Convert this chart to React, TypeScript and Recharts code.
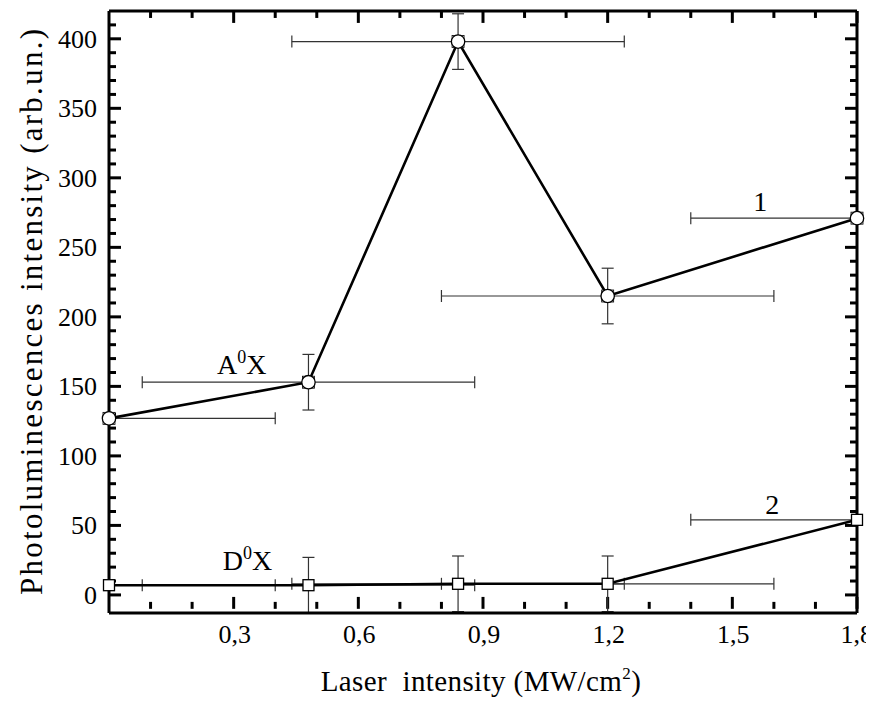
import React from "react";
import {
  ComposedChart,
  Scatter,
  XAxis,
  YAxis,
  ErrorBar,
  ReferenceDot,
  ReferenceLine,
  Label,
} from "recharts";

// values
const laserIntensity = [0, 0.48, 0.84, 1.2, 1.8];
const a0xIntensity = [127, 153, 398, 215, 271];
const d0xIntensity = [7, 7, 8, 8, 54];
const xErrorLow = [0, 0.4, 0.4, 0.4, 0.4];
const xErrorHigh = [0.4, 0.4, 0.4, 0.4, 0];
const yError = [0, 20, 20, 20, 0];

const xMajorTicks = [0.3, 0.6, 0.9, 1.2, 1.5, 1.8];
const xTickLabels = ["0,3", "0,6", "0,9", "1,2", "1,5", "1,8"];
const xMinorTicks = [
  0.1, 0.2, 0.4, 0.5, 0.7, 0.8, 1.0, 1.1, 1.3, 1.4, 1.6, 1.7,
];
const yMajorTicks = [0, 50, 100, 150, 200, 250, 300, 350, 400];
const yTickLabels = ["0", "50", "100", "150", "200", "250", "300", "350", "400"];
const yMinorTicks = [
  10, 20, 30, 40, 60, 70, 80, 90, 110, 120, 130, 140, 160, 170, 180, 190, 210,
  220, 230, 240, 260, 270, 280, 290, 310, 320, 330, 340, 360, 370, 380, 390,
  410,
];

const annotations = [
  { x: 0.26, y: 159, head: "A", sup: "0", tail: "X", anchor: "start" },
  { x: 0.274, y: 18, head: "D", sup: "0", tail: "X", anchor: "start" },
  { x: 1.567, y: 276, head: "1", sup: "", tail: "", anchor: "middle" },
  { x: 1.596, y: 58, head: "2", sup: "", tail: "", anchor: "middle" },
];

const build = (values: number[]) =>
  laserIntensity.map((x, i) => ({
    x,
    y: values[i],
    xErr: [xErrorLow[i], xErrorHigh[i]],
    yErr: yError[i],
  }));

const a0xData = build(a0xIntensity);
const d0xData = build(d0xIntensity);

const FONT = "'Liberation Serif', 'DejaVu Serif', serif";
const AXIS_W = 3;
const X_DOMAIN: [number, number] = [0, 1.8];
const Y_DOMAIN: [number, number] = [-10, 420];

// chart geometry
const W = 866;
const H = 690;
const LEFT = 101;
const RIGHT = 9;
const MARGIN_RIGHT = 8;
const TOP = 3;
const BOTTOM = 85;
const PLOT_W = W - LEFT - RIGHT - MARGIN_RIGHT;
const PLOT_H = H - TOP - BOTTOM;

// tick lengths in px, turned into data units for the inward tick marks
const MAJOR = 12;
const MINOR = 7;
const xPerPx = (X_DOMAIN[1] - X_DOMAIN[0]) / PLOT_W;
const yPerPx = (Y_DOMAIN[1] - Y_DOMAIN[0]) / PLOT_H;

const axisLine = { stroke: "#000", strokeWidth: AXIS_W };

const CircleMarker = (props: any) => {
  const { cx, cy } = props;
  return (
    <g>
      <rect x={cx - 6} y={cy - 6} width={12} height={12} fill="#fff" stroke="#000" strokeWidth={0.8} />
      <circle cx={cx} cy={cy} r={6.7} fill="#fff" stroke="#000" strokeWidth={1.3} />
    </g>
  );
};

const SquareMarker = (props: any) => {
  const { cx, cy } = props;
  return <rect x={cx - 5.5} y={cy - 5.5} width={11} height={11} fill="#fff" stroke="#000" strokeWidth={1.3} />;
};

const XTitle = (props: any) => {
  const { viewBox } = props;
  const cx = viewBox.x + viewBox.width / 2;
  return (
    <text
      x={cx - 2}
      y={viewBox.y + 78}
      textAnchor="middle"
      fontFamily={FONT}
      fontSize={29}
      letterSpacing={0.4}
      fill="#000"
      style={{ whiteSpace: "pre" }}
    >
      {"Laser  intensity (MW/cm"}
      <tspan dy={-12} fontSize={17}>2</tspan>
      <tspan dy={12}>)</tspan>
    </text>
  );
};

const YTitle = (props: any) => {
  const { viewBox } = props;
  const cy = viewBox.y + viewBox.height / 2;
  const x = 34;
  return (
    <text
      x={x}
      y={cy}
      transform={`rotate(-90 ${x} ${cy})`}
      textAnchor="middle"
      fontFamily={FONT}
      fontSize={31}
      textLength={566}
      lengthAdjust="spacing"
      fill="#000"
    >
      Photoluminescences intensity (arb.un.)
    </text>
  );
};

const tickStyle = { stroke: "#000", strokeWidth: AXIS_W };

const xTickMarks = (ticks: number[], len: number) =>
  ticks.flatMap((v) => [
    <ReferenceLine
      key={`xb-${v}`}
      segment={[
        { x: v, y: Y_DOMAIN[0] },
        { x: v, y: Y_DOMAIN[0] + len * yPerPx },
      ]}
      ifOverflow="visible"
      {...tickStyle}
    />,
    <ReferenceLine
      key={`xt-${v}`}
      segment={[
        { x: v, y: Y_DOMAIN[1] },
        { x: v, y: Y_DOMAIN[1] - len * yPerPx },
      ]}
      ifOverflow="visible"
      {...tickStyle}
    />,
  ]);

const yTickMarks = (ticks: number[], len: number) =>
  ticks.flatMap((v) => [
    <ReferenceLine
      key={`yl-${v}`}
      segment={[
        { x: X_DOMAIN[0], y: v },
        { x: X_DOMAIN[0] + len * xPerPx, y: v },
      ]}
      ifOverflow="visible"
      {...tickStyle}
    />,
    <ReferenceLine
      key={`yr-${v}`}
      segment={[
        { x: X_DOMAIN[1], y: v },
        { x: X_DOMAIN[1] - len * xPerPx, y: v },
      ]}
      ifOverflow="visible"
      {...tickStyle}
    />,
  ]);

// tick labels drawn at the axis positions
const xTickTexts = () =>
  xMajorTicks.map((v, i) => {
    const last = i === xMajorTicks.length - 1;
    return (
      <ReferenceDot
        key={`xl-${v}`}
        x={v}
        y={Y_DOMAIN[0]}
        r={0}
        ifOverflow="visible"
        shape={(p: any) => (
          <text
            x={last ? p.cx + 16 : p.cx + 1}
            y={p.cy + 34}
            textAnchor={last ? "end" : "middle"}
            fontFamily={FONT}
            fontSize={26}
            fill="#000"
          >
            {xTickLabels[i]}
          </text>
        )}
      />
    );
  });

const yTickTexts = () =>
  yMajorTicks.map((v, i) => (
    <ReferenceDot
      key={`yt-${v}`}
      x={X_DOMAIN[0]}
      y={v}
      r={0}
      ifOverflow="visible"
      shape={(p: any) => (
        <text x={p.cx - 12} y={p.cy + 9} textAnchor="end" fontFamily={FONT} fontSize={26} fill="#000">
          {yTickLabels[i]}
        </text>
      )}
    />
  ));

export default function App() {
  return (
    <div style={{ width: W, height: H, background: "#fff" }}>
      <ComposedChart width={W} height={H} margin={{ top: 0, right: MARGIN_RIGHT, bottom: 0, left: 0 }}>
        <XAxis
          dataKey="x"
          type="number"
          domain={X_DOMAIN}
          ticks={xMajorTicks}
          interval={0}
          tickSize={0}
          tickLine={false}
          tick={false}
          height={BOTTOM}
          axisLine={axisLine}
        >
          <Label content={XTitle} />
        </XAxis>
        <XAxis
          xAxisId="top"
          orientation="top"
          dataKey="x"
          type="number"
          domain={X_DOMAIN}
          ticks={xMajorTicks}
          interval={0}
          tickSize={0}
          tickLine={false}
          tick={false}
          height={TOP}
          axisLine={axisLine}
        />
        <YAxis
          dataKey="y"
          type="number"
          domain={Y_DOMAIN}
          ticks={yMajorTicks}
          interval={0}
          tickSize={0}
          tickLine={false}
          tick={false}
          width={LEFT}
          axisLine={axisLine}
        >
          <Label content={YTitle} />
        </YAxis>
        <YAxis
          yAxisId="right"
          orientation="right"
          dataKey="y"
          type="number"
          domain={Y_DOMAIN}
          ticks={yMajorTicks}
          interval={0}
          tickSize={0}
          tickLine={false}
          tick={false}
          width={RIGHT}
          axisLine={axisLine}
        />
        {xTickMarks(xMajorTicks, MAJOR)}
        {xTickMarks(xMinorTicks, MINOR)}
        {yTickMarks(yMajorTicks, MAJOR)}
        {yTickMarks(yMinorTicks, MINOR)}
        {xTickTexts()}
        {yTickTexts()}
        <Scatter
          name="A0X"
          data={a0xData}
          line={{ stroke: "#000", strokeWidth: 2.6 }}
          lineType="joint"
          shape={CircleMarker}
          isAnimationActive={false}
        >
          <ErrorBar dataKey="xErr" direction="x" width={6} stroke="#333" strokeWidth={1.2} isAnimationActive={false} />
          <ErrorBar dataKey="yErr" direction="y" width={6} stroke="#333" strokeWidth={1.2} isAnimationActive={false} />
        </Scatter>
        <Scatter
          name="D0X"
          data={d0xData}
          line={{ stroke: "#000", strokeWidth: 2.6 }}
          lineType="joint"
          shape={SquareMarker}
          isAnimationActive={false}
        >
          <ErrorBar dataKey="xErr" direction="x" width={6} stroke="#333" strokeWidth={1.2} isAnimationActive={false} />
          <ErrorBar dataKey="yErr" direction="y" width={6} stroke="#333" strokeWidth={1.2} isAnimationActive={false} />
        </Scatter>
        {annotations.map((a, i) => (
          <ReferenceDot
            key={`ann-${i}`}
            x={a.x}
            y={a.y}
            r={0}
            shape={(p: any) => (
              <text x={p.cx} y={p.cy} textAnchor={a.anchor} fontFamily={FONT} fontSize={28} fill="#000">
                {a.head}
                {a.sup && (
                  <tspan dy={-11} fontSize={18}>
                    {a.sup}
                  </tspan>
                )}
                {a.tail && <tspan dy={11}>{a.tail}</tspan>}
              </text>
            )}
          />
        ))}
      </ComposedChart>
    </div>
  );
}
